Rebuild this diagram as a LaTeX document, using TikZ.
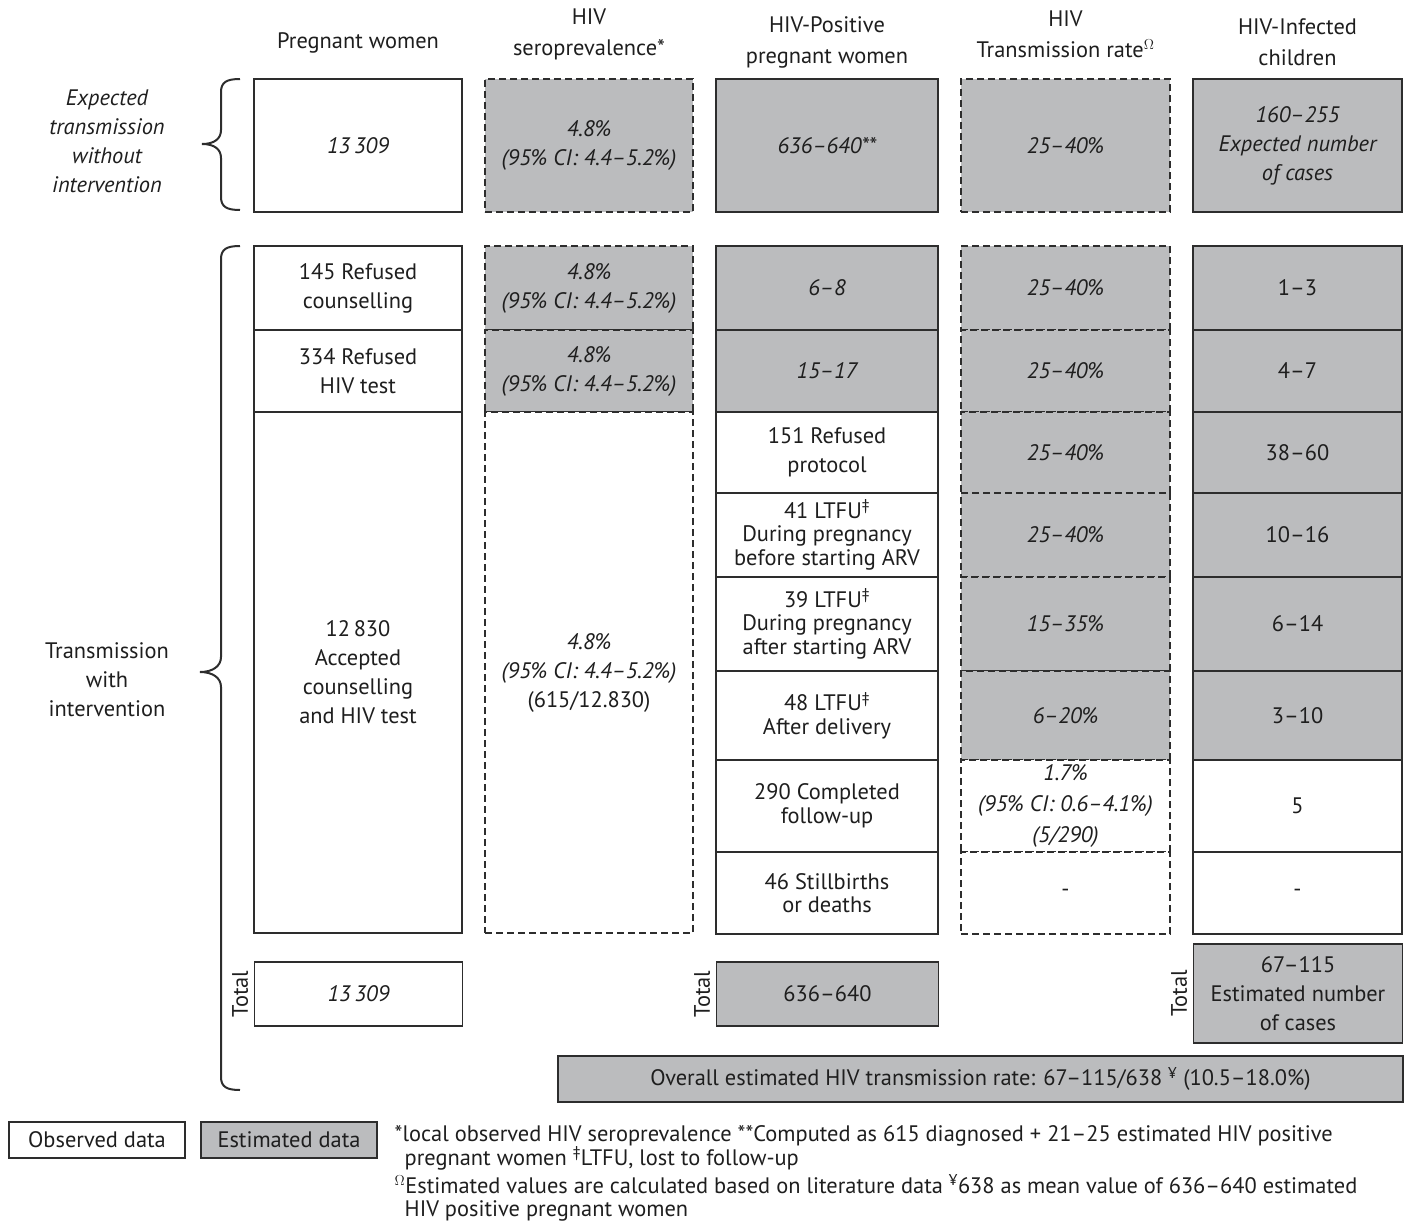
\documentclass[tikz,border=0pt]{standalone}
\usepackage{fontspec}
\setmainfont{PT Sans}

\definecolor{estgray}{RGB}{187,188,190}
\definecolor{edgegray}{RGB}{45,45,45}
\definecolor{inkgray}{RGB}{30,30,30}

\newcommand\cellfont{\fontsize{22.4}{29}\selectfont}
\newcommand\tightfont{\fontsize{22.4}{23.5}\selectfont}
\newcommand\headfont{\fontsize{22.4}{31}\selectfont}

\tikzset{
  cell/.style={draw=edgegray, line width=1.4pt, inner sep=0pt, align=center, text=inkgray, font=\cellfont},
  obs/.style={cell, fill=white},
  est/.style={cell, fill=estgray},
  guess/.style={dash pattern=on 7pt off 4pt},
  it/.style={font=\cellfont\itshape},
  curly/.style={draw=edgegray, line width=2pt},
  colA/.style={minimum width=208pt},
  colB/.style={minimum width=208pt},
  colC/.style={minimum width=222pt},
  colD/.style={minimum width=209pt},
  colE/.style={minimum width=209pt},
}

\begin{document}
\begin{tikzpicture}[x=1pt, y=-1pt]
\useasboundingbox (0,0) rectangle (1405,1223);

% Column headings
\node[cell, draw=none, font=\headfont] (hA) at (358,43) {Pregnant women};
\node[cell, draw=none, font=\headfont] (hB) at (589,34) {HIV\\seroprevalence*};
\node[cell, draw=none, font=\headfont] (hC) at (827,42) {HIV-Positive\\pregnant women};
\node[cell, draw=none, font=\headfont] (hD) at (1065.5,34) {HIV\\Transmission rate$^{\Omega}$};
\node[cell, draw=none, font=\headfont] (hE) at (1297.5,42) {HIV-Infected\\children};

% Row labels and braces
\node[cell, draw=none, it] (nointv) at (107,141) {Expected\\transmission\\without\\intervention};
\node[cell, draw=none] (withintv) at (107,680) {Transmission\\with\\intervention};
\draw[curly] (240,79) .. controls (227,79) and (221,82) .. (221,92) -- (221,130)
  .. controls (221,139) and (214,144) .. (202,144) .. controls (214,144) and (221,149) .. (221,158)
  -- (221,197) .. controls (221,207) and (227,210) .. (240,210);
\draw[curly] (240,246) .. controls (227,246) and (221,249) .. (221,259) -- (221,657)
  .. controls (221,666) and (213,672) .. (200,672) .. controls (213,672) and (221,678) .. (221,687)
  -- (221,1077) .. controls (221,1087) and (227,1090) .. (240,1090);

% Expected transmission without intervention
\node[obs, colA, minimum height=133pt, it] (topA) at (358,145.5) {13\,309};
\node[est, guess, colB, minimum height=133pt, it] (topB) at (589,145.5) {4.8\%\\(95\% CI: 4.4–5.2\%)};
\node[est, colC, minimum height=133pt, it] (topC) at (827,145.5) {636–640**};
\node[est, guess, colD, minimum height=133pt, it] (topD) at (1065.5,145.5) {25–40\%};
\node[est, colE, minimum height=133pt, it] (topE) at (1297.5,145.5) {160–255\\Expected number\\of cases};

% Pregnant women
\node[obs, colA, minimum height=84pt] (refA1) at (358,288) {145 Refused\\counselling};
\node[obs, colA, minimum height=82pt] (refA2) at (358,371) {334 Refused\\HIV test};
\node[obs, colA, minimum height=521pt] (accA) at (358,672.5) {12\,830\\Accepted\\counselling\\and HIV test};

% HIV seroprevalence
\node[est, guess, colB, minimum height=84pt, it] (prevB1) at (589,288) {4.8\%\\(95\% CI: 4.4–5.2\%)};
\node[est, guess, colB, minimum height=82pt, it] (prevB2) at (589,371) {4.8\%\\(95\% CI: 4.4–5.2\%)};
\node[obs, guess, colB, minimum height=521pt] (prevB3) at (589,672.5) {\textit{4.8\%}\\\textit{(95\% CI: 4.4–5.2\%)}\\(615/12.830)};

% HIV-positive pregnant women
\node[est, colC, minimum height=84pt, it] (posC1) at (827,288) {6–8};
\node[est, colC, minimum height=82pt, it] (posC2) at (827,371) {15–17};
\node[obs, colC, minimum height=81pt] (posC3) at (827,452.5) {151 Refused\\protocol};
\node[obs, colC, minimum height=84pt, font=\tightfont] (posC4) at (827,535) {41 LTFU\textsuperscript{‡}\\During pregnancy\\before starting ARV};
\node[obs, colC, minimum height=94pt, font=\tightfont] (posC5) at (827,624) {39 LTFU\textsuperscript{‡}\\During pregnancy\\after starting ARV};
\node[obs, colC, minimum height=89pt, font=\tightfont] (posC6) at (827,715.5) {48 LTFU\textsuperscript{‡}\\After delivery};
\node[obs, colC, minimum height=92pt, font=\tightfont] (posC7) at (827,806) {290 Completed\\follow-up};
\node[obs, colC, minimum height=82pt, font=\tightfont] (posC8) at (827,893) {46 Stillbirths\\or deaths};

% HIV transmission rate
\node[est, guess, colD, minimum height=84pt, it] (rateD1) at (1065.5,288) {25–40\%};
\node[est, guess, colD, minimum height=82pt, it] (rateD2) at (1065.5,371) {25–40\%};
\node[est, guess, colD, minimum height=81pt, it] (rateD3) at (1065.5,452.5) {25–40\%};
\node[est, guess, colD, minimum height=84pt, it] (rateD4) at (1065.5,535) {25–40\%};
\node[est, guess, colD, minimum height=94pt, it] (rateD5) at (1065.5,624) {15–35\%};
\node[est, guess, colD, minimum height=89pt, it] (rateD6) at (1065.5,715.5) {6–20\%};
\node[obs, guess, colD, minimum height=92pt, font=\headfont\itshape] (rateD7) at (1065.5,806) {1.7\%\\(95\% CI: 0.6–4.1\%)\\(5/290)};
\node[obs, guess, colD, minimum height=82pt] (rateD8) at (1065.5,893) {-};

% HIV-infected children
\node[est, colE, minimum height=84pt] (kidE1) at (1297.5,288) {1–3};
\node[est, colE, minimum height=82pt] (kidE2) at (1297.5,371) {4–7};
\node[est, colE, minimum height=81pt] (kidE3) at (1297.5,452.5) {38–60};
\node[est, colE, minimum height=84pt] (kidE4) at (1297.5,535) {10–16};
\node[est, colE, minimum height=94pt] (kidE5) at (1297.5,624) {6–14};
\node[est, colE, minimum height=89pt] (kidE6) at (1297.5,715.5) {3–10};
\node[obs, colE, minimum height=92pt] (kidE7) at (1297.5,806) {5};
\node[obs, colE, minimum height=82pt] (kidE8) at (1297.5,893) {-};

% Totals
\node[obs, colA, minimum height=64pt, it] (totA) at (358.5,994) {13\,309};
\node[est, colC, minimum height=64pt] (totC) at (827.5,994) {636–640};
\node[est, colE, minimum height=99pt] (totE) at (1298,993.5) {67–115\\Estimated number\\of cases};
\node[cell, draw=none, rotate=90, anchor=south, inner sep=5pt] (labA) at (totA.west) {Total};
\node[cell, draw=none, rotate=90, anchor=south, inner sep=5pt] (labC) at (totC.west) {Total};
\node[cell, draw=none, rotate=90, anchor=south, inner sep=5pt] (labE) at (totE.west) {Total};
\node[est, minimum width=845pt, minimum height=46pt] (overall) at (980.5,1079) {Overall estimated HIV transmission rate: 67–115/638 \textsuperscript{¥} (10.5–18.0\%)};

% Key
\node[obs, line width=2.4pt, minimum width=176pt, minimum height=36pt] (keyobs) at (97,1140) {Observed data};
\node[est, line width=2.4pt, minimum width=176pt, minimum height=36pt] (keyest) at (289,1140) {Estimated data};

% Footnotes
\node[cell, draw=none, anchor=north west, align=left, font=\tightfont] (noteA) at (394,1125) {*local observed HIV seroprevalence **Computed as 615 diagnosed + 21–25 estimated HIV positive\\\hspace*{10pt}pregnant women \textsuperscript{‡}LTFU, lost to follow-up};
\node[cell, draw=none, anchor=north west, align=left, font=\tightfont] (noteB) at (394,1174) {$^{\Omega}$Estimated values are calculated based on literature data \textsuperscript{¥}638 as mean value of 636–640 estimated\\\hspace*{10pt}HIV positive pregnant women};

\end{tikzpicture}
\end{document}
